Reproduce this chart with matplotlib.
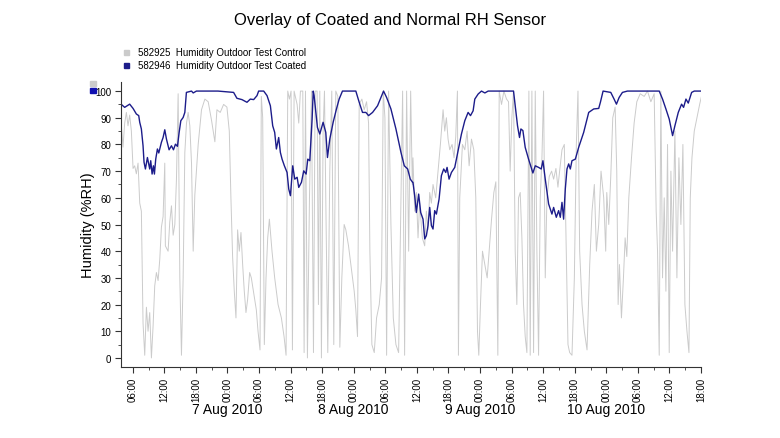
import datetime
import matplotlib
matplotlib.use("Agg")
import matplotlib.pyplot as plt
import matplotlib.dates as mdates
from matplotlib.patches import Rectangle

plt.rcParams['font.family'] = ['Liberation Sans', 'DejaVu Sans']

# hours after 6 Aug 2010 00:00
coated_hours = [3.77, 4.47, 5.42, 6.06, 6.69, 7.14, 7.33, 7.64, 7.96, 8.15, 8.41, 8.79, 9.23, 9.42,
                9.68, 9.93, 10.12, 10.37, 10.69, 10.95, 11.45, 11.77, 12.09, 12.41, 12.91, 13.36,
                13.74, 14.12, 14.5, 14.82, 15.14, 15.58, 15.9, 16.2, 17.17, 17.49, 18.1, 22.2,
                25.17, 25.8, 26.76, 27.71, 28.35, 28.98, 29.62, 29.93, 30.89, 31.52, 32.16, 32.6,
                32.98, 33.3, 33.74, 34.06, 34.38, 34.82, 35.33, 35.65, 35.97, 36.41, 36.79, 37.24,
                37.55, 38.06, 38.5, 38.95, 39.27, 39.65, 40.09, 40.3,
                40.47, 41.1, 41.55, 42.18, 42.69, 43.01, 43.45, 44.09, 44.72, 45.23, 45.86, 48.4,
                49.04, 49.67, 50.31, 50.82, 51.58, 52.53, 53.17, 53.67, 54.25, 55.07, 56.02, 56.98,
                57.61, 58.25, 58.75, 59.2, 59.26, 59.58, 59.9, 60.34, 60.73, 61.17, 61.49, 61.8,
                62.12, 62.44, 62.76, 63.07, 63.39, 63.71, 64.22, 64.66, 65.1, 65.49, 65.74, 66.12,
                66.57, 67.2, 67.84, 68.47, 69.11, 69.74, 70.19, 70.69, 71.01, 71.65, 72.28, 72.92,
                73.55, 77.68, 78.37, 78.69, 79.13, 79.51, 79.77, 80.15, 80.59, 81.23, 82.05, 82.5,
                83.13, 83.64, 83.96, 84.4, 85.04, 85.67, 85.99, 86.5, 86.94, 87.26, 87.58, 87.89,
                88.21, 88.53, 88.85, 89.16, 89.48, 90.12, 90.75, 91.7, 92.66, 93.61, 94.56, 94.88,
                95.39, 96.85, 97.48, 97.93, 98.44, 99.07, 100.02, 106.06, 106.69, 107.33, 107.96,
                108.6, 109.04, 109.68, 110.31, 110.69, 111.14, 111.58, 112.22, 112.72, 114.2]
coated_rh = [95.1, 93.9, 95.1, 93.5, 91.4, 90.8, 88.3, 85.8, 79.5, 73.3, 70.8, 75.1, 70.8, 73.9,
             68.9, 72.0, 68.9, 74.5, 78.3, 76.8, 80.8, 82.6, 85.5, 82.0, 78.0, 79.5,
             78.0, 80.1, 79.3, 84.5, 88.9, 90.1, 92.0, 99.5, 100, 99.3, 100, 100,
             99.5, 97.3, 96.8, 95.8, 97.0, 96.8, 98.3, 100, 100, 98.3, 94.5, 87.0,
             84.5, 78.3, 82.6, 77.0, 74.5, 72.0, 69.5, 63.3, 60.8, 72.0, 67.0, 67.7,
             63.9, 65.8, 70.1, 68.9, 74.5, 73.9, 89.5, 100,
             98.3, 86.4, 83.9, 88.3, 84.5, 75.1, 82.0, 88.3, 93.3, 97.0, 100, 100,
             95.8, 92.0, 92.0, 90.8, 92.0, 94.5, 97.6, 100, 97.6, 93.3, 85.8, 77.0,
             72.0, 70.8, 67.0, 65.8, 65.8, 60.8, 54.5, 61.4, 54.5, 52.0, 44.6, 45.8,
             49.6, 56.4, 49.6, 48.3, 55.2, 53.9, 59.5, 68.3, 70.8, 69.5, 71.4, 67.0,
             69.5, 71.4, 77.7, 83.9, 88.9, 92.0, 90.8, 92.6, 97.0, 98.9, 100, 99.3,
             100, 100, 100, 94.5, 87.0, 82.6, 85.8, 85.2, 78.9, 74.5, 69.3, 72.0,
             71.4, 70.8, 73.9, 67.0, 57.7, 53.9, 56.4, 52.7, 55.2, 52.7, 58.3, 52.0,
             63.3, 70.8, 72.7, 70.8, 73.9, 74.5, 78.9, 84.5, 92.0, 93.3, 93.5, 95.8,
             100, 99.5, 97.0, 95.1, 97.6, 99.5, 100, 100, 97.0, 93.3, 89.5,
             83.3, 87.0, 92.0, 95.1, 93.9, 97.0, 95.5, 99.5, 100, 100]

control_hours = [3.77, 4.15, 4.47, 4.79, 5.1, 5.42, 5.74, 6.06, 6.37, 6.69, 7.01, 7.33, 7.64, 7.96,
                 8.28, 8.6, 8.91, 9.23, 9.55, 9.87, 10.18, 10.5, 10.82, 11.14, 11.45, 11.77, 12.09,
                 12.2, 12.72, 13.04, 13.36, 13.68, 14.0, 14.31, 14.63, 14.95, 15.26, 15.58, 15.9,
                 16.22, 16.53, 16.85, 17.17, 17.49, 17.8, 18.44, 19.07, 19.71, 20.34, 20.98, 21.61,
                 22.0, 22.63, 23.27, 23.9, 24.35, 24.66, 24.98, 25.3, 25.62, 25.93, 26.25, 26.57,
                 26.89, 27.2, 27.52, 27.84, 28.22, 28.54, 28.86, 29.17, 29.49, 29.81, 30.19, 30.44,
                 30.7, 31.01, 31.33, 31.65, 31.97, 32.47, 32.98, 33.62, 34.25, 34.76, 35.14, 35.46,
                 35.78, 36.09, 36.35, 36.67, 37.24, 37.55, 37.87, 38.32, 38.57, 38.83, 39.2, 39.59,
                 39.97, 40.35, 40.66, 41.04, 41.29, 41.55, 41.86, 42.18, 42.44, 42.75, 43.07, 43.45,
                 43.83, 44.21, 44.59, 44.98, 45.36, 45.74, 46.18, 46.5, 47.01, 47.45, 47.77, 48.09,
                 48.4, 48.72, 49.04, 49.55, 49.99, 50.44, 50.82, 51.07, 51.45, 51.9, 52.34, 52.85,
                 53.29, 53.61, 53.93, 54.25, 54.63, 55.07, 55.52, 56.02, 56.53, 56.98, 57.29, 57.67,
                 58.05, 58.44, 58.82, 59.13, 59.26, 59.58, 59.9, 60.22, 60.53, 61.04, 61.49, 61.8,
                 62.12, 62.44, 62.76, 63.07, 63.58, 64.03, 64.47, 64.98, 65.3, 65.61, 65.93, 66.25,
                 66.69, 67.07, 67.39, 67.71, 67.9, 68.15, 68.66, 69.11, 69.55, 69.93, 70.38, 70.82,
                 71.2, 71.52, 71.77, 72.09, 72.47, 72.92, 73.36, 73.74, 74.19, 74.63, 75.01, 75.39,
                 75.65, 76.09, 76.54, 77.04, 77.42, 77.73, 78.05, 78.37, 78.69, 79.0, 79.32, 79.64,
                 79.96, 80.27, 80.59, 80.91, 81.29, 81.54, 81.86, 82.18, 82.5, 82.81, 83.13, 83.45,
                 83.77, 84.08, 84.4, 84.72, 85.16, 85.61, 85.99, 86.43, 86.81, 87.13, 87.58, 88.02,
                 88.4, 88.72, 89.04, 89.48, 89.93, 90.31, 90.62, 90.94, 91.39, 91.83, 92.34, 92.85,
                 93.29, 93.73, 94.12, 94.56, 95.0, 95.51, 95.89, 96.09, 96.47, 96.85, 97.23, 97.68,
                 97.99, 98.25, 98.5, 98.88, 99.26, 99.58, 99.9, 100.28, 100.79, 101.29, 101.8,
                 102.44, 103.2, 103.83, 104.47, 105.1, 105.48, 105.74, 106.06, 106.37, 106.69,
                 107.01, 107.33, 107.64, 107.96, 108.28, 108.6, 109.04, 109.42, 109.8, 110.18,
                 110.56, 110.94, 111.33, 111.71, 111.96, 112.28, 112.72, 113.23, 113.74, 114.2]
control_rh = [89, 79, 88, 92, 87, 91, 85, 71, 72, 69, 73, 58, 55, 13,
              1, 19, 10, 17, 0, 12, 27, 32, 29, 37, 49, 53, 73,
              42, 40, 51, 57, 46, 50, 67, 99, 30, 1, 30, 77,
              88, 92, 87, 73, 40, 61, 80, 93, 97, 96, 89, 81,
              93, 92, 95, 94, 85, 60, 38, 25, 15, 48, 40, 47,
              35, 25, 17, 22, 32, 30, 26, 22, 18, 10, 3, 98,
              90, 5, 30, 45, 52, 40, 30, 20, 15, 8, 1, 100,
              97, 100, 3, 100, 95, 88, 100, 100, 2, 100, 0, 60,
              100, 2, 100, 100, 20, 100, 0, 85, 100, 50, 2, 70,
              100, 5, 100, 98, 4, 30, 50, 48, 42, 35, 30, 25,
              18, 8, 95, 97, 93, 96, 88, 40, 5, 2, 15, 20,
              30, 100, 90, 1, 100, 50, 15, 5, 2, 60, 100, 1,
              100, 40, 100, 65, 75, 55, 62, 45, 58, 45, 42, 55,
              48, 62, 58, 65, 60, 70, 80, 93, 85, 90, 82, 78,
              80, 75, 83, 100, 1, 60, 80, 78, 85, 72, 82, 78,
              60, 10, 1, 20, 40, 35, 30, 40, 52, 62, 66, 1,
              100, 95, 100, 97, 96, 70, 90, 100, 40, 20, 60, 62,
              45, 20, 8, 2, 100, 1, 100, 2, 100, 40, 1, 60,
              75, 100, 30, 60, 68, 70, 67, 71, 64, 70, 78, 80,
              40, 5, 2, 1, 30, 80, 100, 40, 20, 10, 3, 35,
              55, 65, 40, 50, 70, 60, 40, 62, 50, 68, 90, 94,
              70, 20, 35, 15, 30, 45, 38, 60, 75, 88, 96,
              99, 98, 100, 96, 99, 55, 40, 1, 100, 30,
              60, 25, 80, 2, 70, 40, 85, 30, 75, 50,
              80, 20, 10, 2, 60, 75, 85, 90, 95, 99]

control_name = "582925  Humidity Outdoor Test Control"
coated_name = "582946  Humidity Outdoor Test Coated"
date_labels = ["7 Aug 2010", "8 Aug 2010", "9 Aug 2010", "10 Aug 2010"]

base = datetime.datetime(2010, 8, 6)
def to_dt(hours):
    return [base + datetime.timedelta(hours=h) for h in hours]

gray = '#cbcbcb'
navy = '#1c1c8a'

fig = plt.figure(figsize=(7.8, 4.39), dpi=100)
ax = fig.add_axes([121/780, 1-368/439, 580/780, 285/439])

ax.plot(to_dt(control_hours), control_rh, color=gray, lw=0.7)
ax.plot(to_dt(coated_hours), coated_rh, color=navy, lw=1.0)

ax.set_xlim(base + datetime.timedelta(hours=3.77), base + datetime.timedelta(hours=114))
ax.set_ylim(-3.4, 103.4)
ax.set_yticks(range(0, 101, 10))
ax.set_yticks(range(5, 100, 10), minor=True)
ax.xaxis.set_major_locator(mdates.HourLocator(byhour=[0, 6, 12, 18]))
ax.xaxis.set_minor_locator(mdates.HourLocator(byhour=[3, 9, 15, 21]))
ax.xaxis.set_major_formatter(mdates.DateFormatter('%H:%M'))
for s in ['top', 'right']:
    ax.spines[s].set_visible(False)
for s in ['left', 'bottom']:
    ax.spines[s].set_color('#333333')
ax.tick_params(which='major', length=4, color='#333333', labelsize=7, pad=3)
ax.tick_params(which='minor', length=2.5, color='#333333')
plt.setp(ax.get_xticklabels(), rotation=90)

for i, lab in enumerate(date_labels):
    ax.text(base + datetime.timedelta(days=i + 1), -0.147, lab, transform=ax.get_xaxis_transform(),
            ha='center', va='center', fontsize=10)

fig.text(0.5, 1-20/439, "Overlay of Coated and Normal RH Sensor", ha='center', va='center', fontsize=12)
fig.text(88/780, 1-225/439, "Humidity (%RH)", rotation=90, ha='center', va='center', fontsize=10.5)

# legend
fig.add_artist(Rectangle((124/780, 1-56/439), 5/780, 5/439, color=gray, transform=fig.transFigure))
fig.add_artist(Rectangle((124/780, 1-69/439), 5/780, 5/439, color=navy, transform=fig.transFigure))
fig.text(138/780, 1-53/439, control_name, fontsize=7, va='center')
fig.text(138/780, 1-66/439, coated_name, fontsize=7, va='center')
fig.add_artist(Rectangle((90/780, 1-87/439), 6/780, 5/439, color=gray, transform=fig.transFigure))
fig.add_artist(Rectangle((90/780, 1-94/439), 6/780, 5/439, color='#1010b0', transform=fig.transFigure))

fig.savefig('out.png', dpi=100)
